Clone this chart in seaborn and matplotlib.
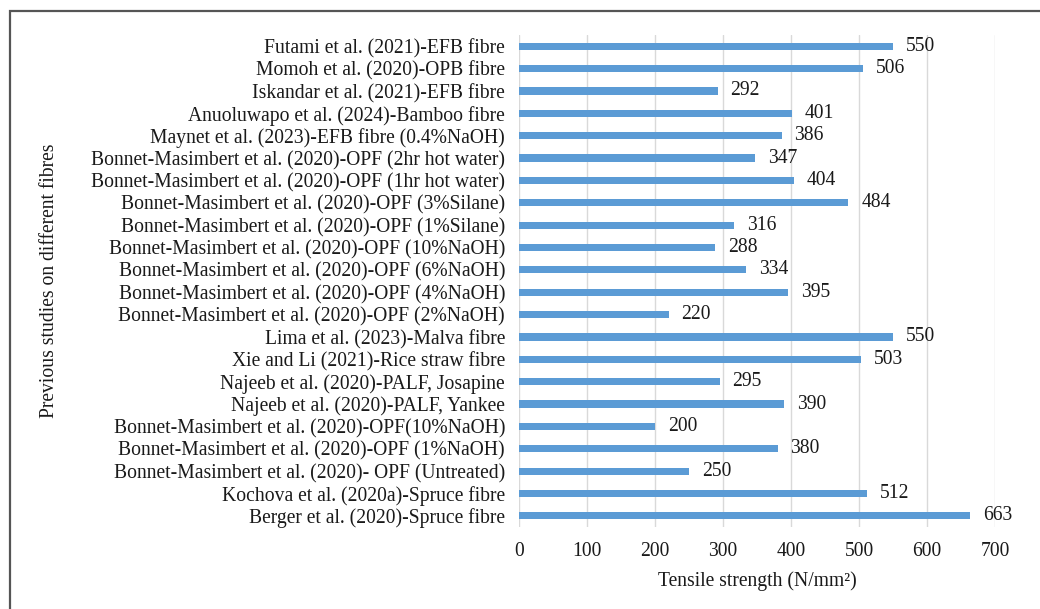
import matplotlib
matplotlib.use("Agg")
import matplotlib.pyplot as plt
import matplotlib.patches as mpatches
import seaborn as sns
import pandas as pd

studies = [
    "Futami et al. (2021)-EFB fibre",
    "Momoh et al. (2020)-OPB fibre",
    "Iskandar et al. (2021)-EFB fibre",
    "Anuoluwapo et al. (2024)-Bamboo fibre",
    "Maynet et al. (2023)-EFB fibre (0.4%NaOH)",
    "Bonnet-Masimbert et al. (2020)-OPF (2hr hot water)",
    "Bonnet-Masimbert et al. (2020)-OPF (1hr hot water)",
    "Bonnet-Masimbert et al. (2020)-OPF (3%Silane)",
    "Bonnet-Masimbert et al. (2020)-OPF (1%Silane)",
    "Bonnet-Masimbert et al. (2020)-OPF (10%NaOH)",
    "Bonnet-Masimbert et al. (2020)-OPF (6%NaOH)",
    "Bonnet-Masimbert et al. (2020)-OPF (4%NaOH)",
    "Bonnet-Masimbert et al. (2020)-OPF (2%NaOH)",
    "Lima et al. (2023)-Malva fibre",
    "Xie and Li (2021)-Rice straw fibre",
    "Najeeb et al. (2020)-PALF, Josapine",
    "Najeeb et al. (2020)-PALF, Yankee",
    "Bonnet-Masimbert et al. (2020)-OPF(10%NaOH)",
    "Bonnet-Masimbert et al. (2020)-OPF (1%NaOH)",
    "Bonnet-Masimbert et al. (2020)- OPF (Untreated)",
    "Kochova et al. (2020a)-Spruce fibre",
    "Berger et al. (2020)-Spruce fibre",
]
strength = [550, 506, 292, 401, 386, 347, 404, 484, 316, 288, 334,
            395, 220, 550, 503, 295, 390, 200, 380, 250, 512, 663]
x_ticks = [0, 100, 200, 300, 400, 500, 600, 700]

df = pd.DataFrame({"study": studies, "strength": strength})

sns.set_theme(style="white")
plt.rcParams["font.family"] = ["Liberation Serif", "DejaVu Serif"]

FS = 14.1
TXT = "#1a1a1a"

fig = plt.figure(figsize=(10.4, 6.09), dpi=100)
ax = fig.add_axes([0.499, 0.1346, 0.458, 0.8079])

sns.barplot(data=df, y="study", x="strength", orient="h", color="#5B9BD5",
            saturation=1, width=0.32, linewidth=0, ax=ax, order=studies)

ax.set_xlim(0, 700)
ax.set_xticks(x_ticks)
ax.set_xticklabels([str(t) for t in x_ticks], fontsize=FS, color=TXT)
ax.tick_params(axis="y", labelsize=FS, labelcolor=TXT, length=0, pad=10)
ax.tick_params(axis="x", length=0, pad=11)
ax.grid(axis="x", color="#d9d9d9", linewidth=1)
ax.set_axisbelow(True)
for s in ax.spines.values():
    s.set_visible(False)

ax.set_xlabel("Tensile strength (N/mm²)", fontsize=FS, color=TXT, labelpad=7)
ax.set_ylabel("Previous studies on different fibres", fontsize=FS, color=TXT)
ax.yaxis.set_label_coords(-0.966, 0.5)

for i, v in enumerate(strength):
    ax.text(v + 19, i, str(v), va="center", ha="left", fontsize=FS,
            color=TXT, clip_on=False)

# frame around the figure (top and left edges visible)
frame = mpatches.Rectangle((9.5 / 1040, -0.1), 1.2, 1.1 - 11 / 609,
                           transform=fig.transFigure, fill=False,
                           edgecolor="#555555", linewidth=1.6, clip_on=False)
fig.patches.append(frame)

fig.savefig("out.png", dpi=100)
